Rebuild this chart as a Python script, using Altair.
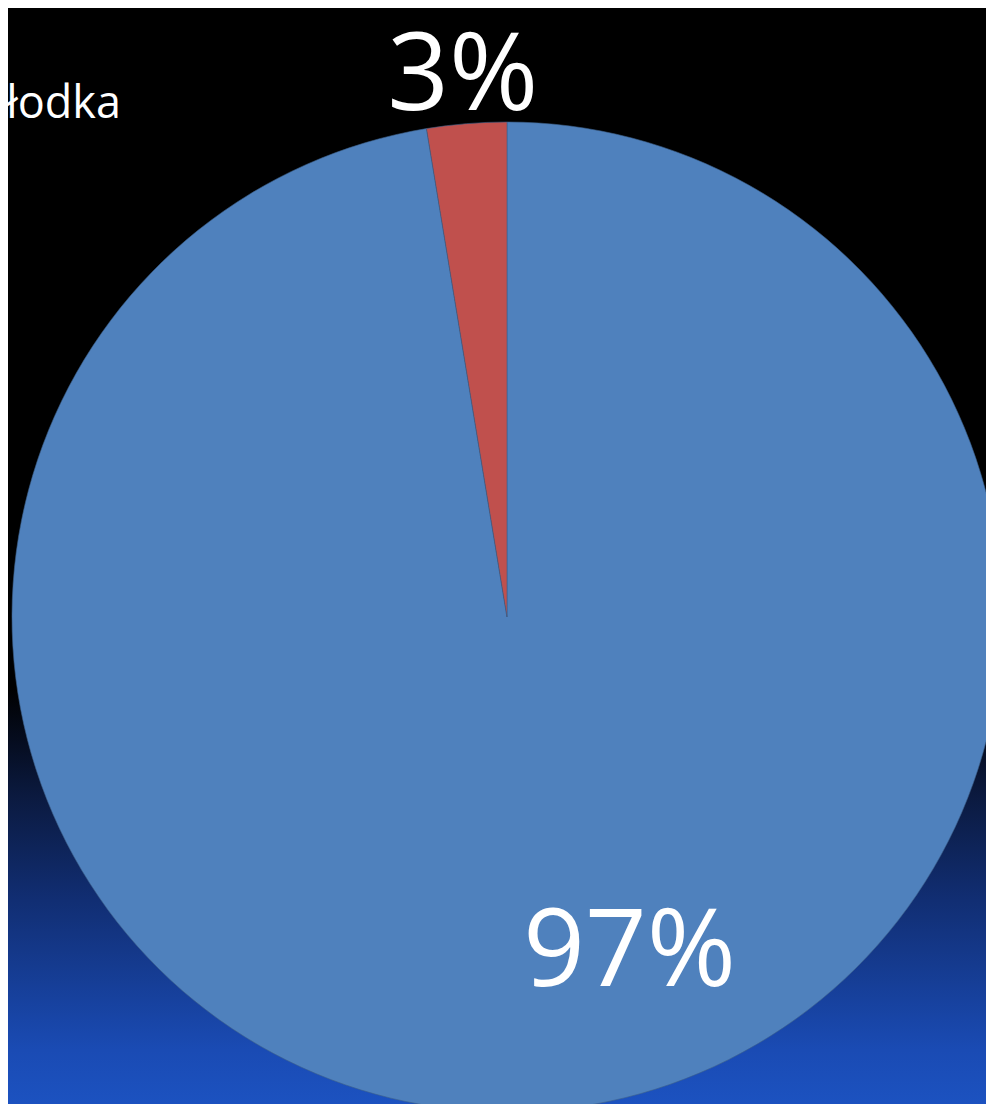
import altair as alt
import pandas as pd

# data
categories = ["Słodka", "Inna"]
values = [97.4, 2.6]
labels = ["97%", "3%"]
order_idx = [0, 1]
colors = ["#4f81bd", "#c0504d"]

df = pd.DataFrame({"cat": categories, "value": values, "label": labels, "idx": order_idx})

W, H = 978, 1096
CX, CY, R = 499, 609, 495
FONT = "Open Sans"

bg = alt.Chart(alt.Data(values=[{}])).mark_rect(
    color=alt.LinearGradient(
        gradient="linear",
        x1=0, x2=0, y1=0, y2=1,
        stops=[
            alt.GradientStop(offset=0, color="#000000"),
            alt.GradientStop(offset=0.62, color="#000000"),
            alt.GradientStop(offset=0.72, color="#0b1a40"),
            alt.GradientStop(offset=0.814, color="#112e73"),
            alt.GradientStop(offset=0.951, color="#1a4bb4"),
            alt.GradientStop(offset=1, color="#1c52c0"),
        ],
    )
).encode(x=alt.value(0), x2=alt.value(W), y=alt.value(0), y2=alt.value(H))

base = alt.Chart(df).encode(
    theta=alt.Theta("value:Q", stack=True),
    order=alt.Order("idx:Q"),
)

pie = base.mark_arc(radius=R, stroke="#3d5f8a", strokeWidth=0.6).encode(
    x=alt.value(CX),
    y=alt.value(CY),
    color=alt.Color("cat:N", scale=alt.Scale(domain=categories, range=colors), legend=None),
)

small_label = base.mark_text(
    radius=541, font=FONT, fontSize=108, color="white", baseline="middle", align="center"
).encode(
    x=alt.value(CX),
    y=alt.value(CY),
    text=alt.condition(alt.datum.cat == categories[1], "label:N", alt.value("")),
)

big_label = base.mark_text(
    radius=338, dx=95, font=FONT, fontSize=108, color="white", baseline="middle", align="center"
).encode(
    x=alt.value(CX),
    y=alt.value(CY),
    text=alt.condition(alt.datum.cat == categories[0], "label:N", alt.value("")),
)

legend_text = alt.Chart(alt.Data(values=[{"t": categories[0]}])).mark_text(
    font=FONT, fontSize=45, color="white", align="right", baseline="alphabetic"
).encode(x=alt.value(113), y=alt.value(110), text="t:N")

chart = alt.layer(bg, pie, small_label, big_label, legend_text).properties(
    width=W, height=H, padding=0, autosize=alt.AutoSizeParams(type="none")
).configure_view(stroke=None).configure(background="#000000")

chart.save("out.html", embed_options={"renderer": "svg", "actions": False})
